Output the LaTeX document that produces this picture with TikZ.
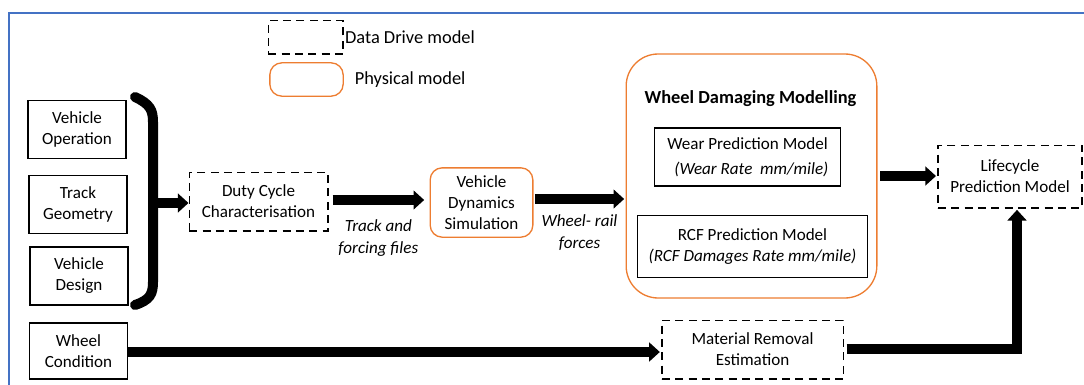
\documentclass[tikz,border=0pt]{standalone}
\usepackage{fontspec}
\setmainfont{Carlito}
\usetikzlibrary{arrows.meta, positioning}

\definecolor{physorange}{RGB}{237,125,49}
\definecolor{frameblue}{RGB}{68,114,196}

\begin{document}
\begin{tikzpicture}[x=0.75pt, y=-0.75pt,
        % styles
        every node/.style = {font=\fontsize{12.8}{15.8}\selectfont},
        inbox/.style = {
                rectangle, draw=black, line width=0.9pt,
                align=center, inner sep=2pt
            },
        databox/.style = {
                rectangle, draw=black, line width=1pt,
                dash pattern=on 6pt off 4pt,
                align=center, inner sep=2pt
            },
        physbox/.style = {
                rectangle, rounded corners=9pt, draw=physorange, line width=1pt,
                align=center, inner sep=2pt
            },
        flow/.style = {
                line width=7.5pt, line join=miter,
                -{Triangle[length=8pt, width=14pt]}
            },
        edgelabel/.style = {
                align=center, font=\fontsize{12.8}{15.8}\selectfont\itshape
            },
        legendtext/.style = {
                anchor=west, inner sep=1pt, font=\fontsize{13.8}{16}\selectfont
            }]

    \useasboundingbox (0,0) rectangle (1084,385);
    % frame
    \draw [frameblue, line width=1.6pt] (9,385) -- (9,13) -- (1084,13);

    % legend
    \node (leg_data) [databox, minimum width=56pt, minimum height=25pt] at (305.5,37.5) {};
    \node [legendtext] at (leg_data.east) {Data Drive model};
    \node (leg_phys) [physbox, minimum width=55pt, minimum height=25pt] at (306.5,79.5) {};
    \node [legendtext] at ([xshift=7pt]leg_phys.east) {Physical model};

    % inputs
    \node (veh_op) [inbox, minimum width=73.5pt, minimum height=43pt] at (77,129.5) {Vehicle\\Operation};
    \node (track_geo) [inbox, minimum width=73.5pt, minimum height=43pt] at (78,204.5) {Track\\Geometry};
    \node (veh_design) [inbox, minimum width=73.5pt, minimum height=43.5pt] at (79,276) {Vehicle\\Design};
    \node (wheel_cond) [inbox, minimum width=74pt, minimum height=42pt] at (78.5,351) {Wheel\\Condition};

    % models
    \node (duty_cycle) [databox, minimum width=104pt, minimum height=44pt] at (258.5,201.5) {Duty Cycle\\Characterisation};
    \node (veh_dyn) [physbox, minimum width=77pt, minimum height=52pt] at (481.5,202.5) {Vehicle\\Dynamics\\Simulation};
    \node (damage) [physbox, rounded corners=24pt, minimum width=188pt, minimum height=183pt] at (751.5,176) {};
    \node (damage_title) [font=\fontsize{13.8}{16}\selectfont\bfseries] at (750.5,99) {Wheel Damaging Modelling};
    \node (wear) [inbox, minimum width=139pt, minimum height=43.5pt] at (747.5,157) {Wear Prediction Model\\[3pt] \textit{~~(Wear Rate~~mm/mile)}};
    \node (rcf) [inbox, minimum width=173pt, minimum height=46pt] at (752.5,246.5) {RCF Prediction Model\\ \textit{(RCF Damages Rate mm/mile)}};
    \node (lifecycle) [databox, minimum width=108pt, minimum height=47pt] at (1010,176.5) {Lifecycle\\Prediction Model};
    \node (material) [databox, minimum width=136pt, minimum height=44pt] at (752.5,349.5) {Material Removal\\Estimation};

    % brace
    \coordinate (brace_top) at (135,97);
    \coordinate (brace_mid) at (153,203);
    \coordinate (brace_bot) at (135,305);
    \draw [line width=7.5pt, line cap=round] (brace_top) .. controls (150,104) and (153,110) .. (153,122)
        -- (153,282) .. controls (153,294) and (150,300) .. (brace_bot);

    % arrows
    \draw [flow] (brace_mid) -- (brace_mid -| duty_cycle.west);
    \draw [flow] ([xshift=3pt]duty_cycle.east |- 0,200) -- node[edgelabel, below=8pt] {Track and\\forcing files} ([xshift=-4pt]veh_dyn.west |- 0,200);
    \draw [flow] ([xshift=1pt]veh_dyn.east |- 0,199) -- node[edgelabel, below=5pt] {Wheel- rail\\forces} ([xshift=-1pt]damage.west |- 0,199);
    \draw [flow] ([xshift=2pt]damage.east |- 0,176) -- ([xshift=-1pt]lifecycle.west |- 0,176);
    \draw [flow] (wheel_cond.east |- 0,352) -- ([xshift=-1pt]material.west |- 0,352);
    \coordinate (corner) at (1017,349);
    \draw [flow] ([xshift=2pt]material.east |- corner) -- (corner) -- ([yshift=-1pt]lifecycle.south -| corner);

\end{tikzpicture}
\end{document}
